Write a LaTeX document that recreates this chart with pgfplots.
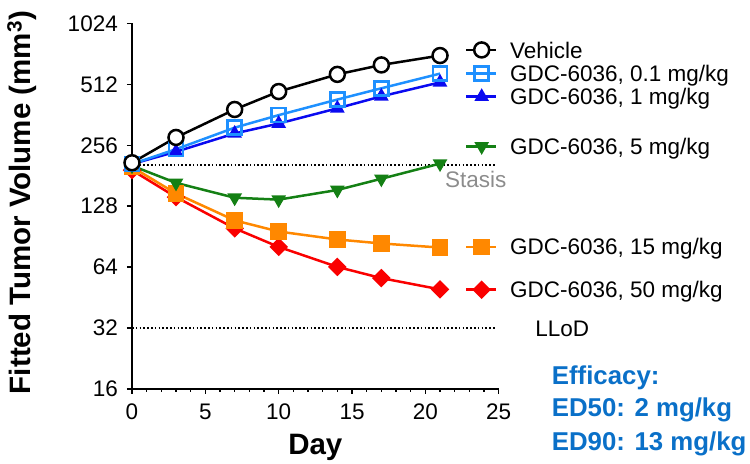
\documentclass[border=0pt]{standalone}
\usepackage{fontspec}
\setmainfont{Liberation Sans}
\usepackage{pgfplots}
\pgfplotsset{compat=1.18}
\definecolor{clblue}{RGB}{30,144,255}
\definecolor{cblue}{RGB}{10,10,240}
\definecolor{cgreen}{RGB}{20,128,20}
\definecolor{corange}{RGB}{255,136,0}
\definecolor{cred}{RGB}{250,0,0}
\definecolor{ceff}{RGB}{10,112,200}
\definecolor{cstasis}{RGB}{140,140,140}
\tikzset{legendtxt/.style={anchor=base west, inner sep=0pt, yshift=-8.1bp, font=\fontsize{22.5bp}{24bp}\selectfont}}
\begin{document}
\begin{tikzpicture}
\path[use as bounding box] (0,0) rectangle (750bp,464bp);
\begin{axis}[
  at={(132bp,75bp)}, anchor=south west,
  scale only axis, width=366.7bp, height=365.5bp,
  xmin=0, xmax=25, ymin=16, ymax=1024,
  ymode=log, log basis y=2,
  ytick={16,32,64,128,256,512,1024},
  yticklabels={16,32,64,128,256,512,1024},
  yminorticks=false,
  xtick={0,5,10,15,20,25},
  minor x tick num=4,
  axis x line*=bottom, axis y line*=left,
  axis line style={line width=2bp, -},
  every tick/.style={black, line width=1.5bp},
  tick align=outside,
  major tick length=5bp, minor tick length=3bp,
  /pgf/number format/assume math mode=true,
  tick label style={font=\fontsize{22.5bp}{24bp}\selectfont, inner sep=0pt},
  yticklabel style={xshift=-9bp},
  xticklabel style={yshift=-10bp},
  xlabel={Day},
  ylabel={Fitted Tumor Volume (mm\textsuperscript{3})},
  label style={font=\fontsize{29.5bp}{32bp}\selectfont\bfseries},
  xlabel style={at={(axis description cs:0.5,-0.161)}, anchor=center},
  ylabel style={at={(axis description cs:-0.30,0.51)}, anchor=center, rotate=0},
  clip=false,
]
% reference lines
\addplot[black, line width=1.5bp, dash pattern=on 1.5bp off 2.3bp] coordinates {(0,205)(24.75,205)};
\addplot[black, line width=1.5bp, dash pattern=on 1.5bp off 2.3bp] coordinates {(0,32)(24.75,32)};
% 50 mg/kg
\addplot[cred, line width=2.5bp, mark=square*, mark size=5.3bp, mark options={rotate=45, solid}] coordinates {(0,193)(3,142)(7,99.5)(10,80.6)(14,64.2)(17,56.5)(21,49.7)};
% 15 mg/kg
\addplot[corange, line width=2.5bp, mark=square*, mark size=7bp] coordinates {(0,200)(3,148)(7,109)(10,96)(14,87.7)(17,83.8)(21,80)};
% 5 mg/kg
\addplot[cgreen, line width=2.5bp, mark=triangle*, mark size=6bp, mark options={rotate=180}] coordinates {(0,203)(3,167)(7,141)(10,138)(14,154)(17,175)(21,208)};
% 1 mg/kg
\addplot[cblue, line width=2.5bp, mark=triangle*, mark size=6bp] coordinates {(0,207)(3,238)(7,293)(10,328)(14,390)(17,447)(21,524)};
% 0.1 mg/kg
\addplot[clblue, line width=2.5bp, mark=square, mark size=7bp, mark options={fill=white, line width=2.5bp}] coordinates {(0,207)(3,245)(7,313)(10,361)(14,431)(17,490)(21,579)};
% Vehicle
\addplot[black, line width=2.5bp, mark=*, mark size=7.5bp, mark options={fill=white, line width=2.5bp}] coordinates {(0,210)(3,280)(7,385)(10,472)(14,574)(17,639)(21,711)};
% legend samples
\addplot[black, line width=2.5bp, mark=*, mark size=7.5bp, mark indices={2}, mark options={fill=white}] coordinates {(22.78,758)(23.84,758)(24.83,758)};
\addplot[clblue, line width=2.5bp, mark=square, mark size=7bp, mark indices={2}, mark options={fill=white}] coordinates {(22.78,580)(23.84,580)(24.83,580)};
\addplot[cblue, line width=2.5bp, mark=triangle*, mark size=6bp, mark indices={2}] coordinates {(22.78,445)(23.84,445)(24.83,445)};
\addplot[cgreen, line width=2.5bp, mark=triangle*, mark size=6bp, mark indices={2}, mark options={rotate=180}] coordinates {(22.78,253)(23.84,253)(24.83,253)};
\addplot[corange, line width=2.5bp, mark=square*, mark size=7bp, mark indices={2}] coordinates {(22.78,80.6)(23.84,80.6)(24.83,80.6)};
\addplot[cred, line width=2.5bp, mark=square*, mark size=5.3bp, mark indices={2}, mark options={rotate=45}] coordinates {(22.78,49.5)(23.84,49.5)(24.83,49.5)};
% legend texts
\node[legendtxt] at (axis cs:25.77,758) {Vehicle};
\node[legendtxt] at (axis cs:25.77,580) {GDC-6036, 0.1 mg/kg};
\node[legendtxt] at (axis cs:25.77,445) {GDC-6036, 1 mg/kg};
\node[legendtxt] at (axis cs:25.77,253) {GDC-6036, 5 mg/kg};
\node[legendtxt] at (axis cs:25.77,80.6) {GDC-6036, 15 mg/kg};
\node[legendtxt] at (axis cs:25.77,49.5) {GDC-6036, 50 mg/kg};
\node[legendtxt] at (axis cs:27.48,32) {LLoD};
\node[legendtxt, text=cstasis] at (axis cs:21.34,174.5) {Stasis};
\end{axis}
\begin{scope}[every node/.style={anchor=base west, inner sep=0pt, text=ceff, font=\fontsize{25.8bp}{28bp}\selectfont\bfseries}]
\node at (551.7bp,79bp) {Efficacy:};
\node at (551.7bp,47bp) {ED50: 2 mg/kg};
\node at (551.7bp,14bp) {ED90: 13 mg/kg};
\end{scope}
\end{tikzpicture}
\end{document}
